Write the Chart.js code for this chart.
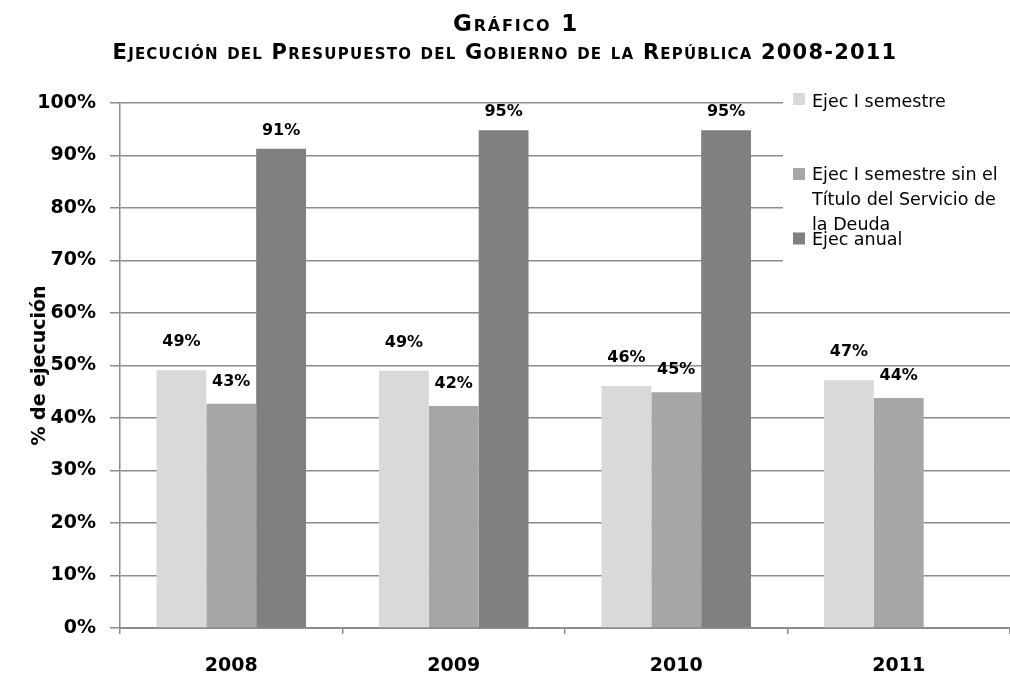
<!DOCTYPE html>
<html>
<head>
<meta charset="utf-8">
<script src="https://cdn.jsdelivr.net/npm/chart.js@4/dist/chart.umd.min.js"></script>
<style>
  html, body { margin: 0; padding: 0; background: #fff; overflow: hidden; }
  #wrap { position: relative; width: 1010px; height: 684px; }
  canvas { position: absolute; left: 0; top: 0; }
  .t { position: absolute; font-family: "DejaVu Sans", sans-serif; font-weight: bold; font-variant: small-caps; color: #000; white-space: nowrap; transform: translate(-50%, -50%); }
  #t1 { left: 516px; top: 23px; font-size: 23px; letter-spacing: 1.8px; }
  #t2 { left: 505px; top: 52px; font-size: 21px; letter-spacing: 1.2px; }
</style>
</head>
<body>
<div id="wrap">
  <canvas id="c" width="1010" height="684"></canvas>
  <div class="t" id="t1">Gráfico 1</div>
  <div class="t" id="t2">Ejecución del Presupuesto del Gobierno de la República 2008-2011</div>
</div>
<script>
const categories = ['2008', '2009', '2010', '2011'];
const seriesNames = ['Ejec I semestre', 'Ejec I semestre sin el Título del Servicio de la Deuda', 'Ejec anual'];
const ejecISemestre = [49.1, 49.0, 46.1, 47.2];
const ejecSinDeuda = [42.7, 42.3, 44.9, 43.8];
const ejecAnual = [91.3, 94.8, 94.8, null];
const legendLines = [['Ejec I semestre'], ['Ejec I semestre sin el', 'Título del Servicio de', 'la Deuda'], ['Ejec anual']];
const yAxisTitle = '% de ejecución';

const colors = ['#d9d9d9', '#a6a6a6', '#808080'];
const gridColor = '#8c8c8c';

const overlayPlugin = {
  id: 'overlay',
  afterDatasetsDraw(chart) {
    const ctx = chart.ctx;
    const offsets = [28, 22, 18];
    ctx.save();
    ctx.font = 'bold 16px "DejaVu Sans"';
    ctx.fillStyle = '#000';
    ctx.textAlign = 'center';
    ctx.textBaseline = 'middle';
    chart.data.datasets.forEach((ds, i) => {
      const meta = chart.getDatasetMeta(i);
      meta.data.forEach((bar, j) => {
        const v = ds.data[j];
        if (v === null || v === undefined) return;
        ctx.fillText(Math.round(v) + '%', bar.x, bar.y - offsets[i]);
      });
    });
    ctx.restore();
  },
  afterDraw(chart) {
    const ctx = chart.ctx;
    ctx.save();
    ctx.fillStyle = '#fff';
    ctx.fillRect(783, 86, 227, 178);
    const sq = [99, 174, 238.5];
    const base = [[106.5], [180, 205, 230], [244.5]];
    ctx.font = '17.5px "DejaVu Sans"';
    ctx.textAlign = 'left';
    ctx.textBaseline = 'alphabetic';
    legendLines.forEach((lines, i) => {
      ctx.fillStyle = colors[i];
      ctx.fillRect(793, sq[i] - 6, 12, 12);
      ctx.fillStyle = '#000';
      lines.forEach((ln, k) => ctx.fillText(ln, 812, base[i][k]));
    });
    ctx.restore();
  }
};

new Chart(document.getElementById('c'), {
  type: 'bar',
  data: {
    labels: categories,
    datasets: [
      { label: seriesNames[0], data: ejecISemestre, backgroundColor: colors[0] },
      { label: seriesNames[1], data: ejecSinDeuda, backgroundColor: colors[1] },
      { label: seriesNames[2], data: ejecAnual, backgroundColor: colors[2] }
    ]
  },
  options: {
    responsive: false,
    animation: false,
    devicePixelRatio: 1,
    layout: { padding: { left: 0, right: 0, top: 103, bottom: 0 } },
    datasets: { bar: { categoryPercentage: 0.672, barPercentage: 1.0 } },
    plugins: {
      legend: { display: false },
      tooltip: { enabled: false },
      title: { display: false }
    },
    scales: {
      x: {
        afterFit(scale) { scale.height = 56; },
        grid: { display: true, drawOnChartArea: false, drawTicks: true, tickLength: 6, color: gridColor, lineWidth: 1.5 },
        border: { display: true, color: gridColor, width: 2 },
        ticks: { color: '#000', font: { family: 'DejaVu Sans', weight: 'bold', size: 19 }, padding: 21 }
      },
      y: {
        min: 0, max: 100,
        afterFit(scale) { scale.width = 120; },
        ticks: {
          stepSize: 10,
          color: '#000',
          font: { family: 'DejaVu Sans', weight: 'bold', size: 19 },
          padding: 14,
          callback: (v) => v + '%'
        },
        grid: { color: gridColor, lineWidth: 1.5, tickLength: 10 },
        border: { display: true, color: gridColor, width: 1.5 },
        title: { display: true, text: yAxisTitle, color: '#000', font: { family: 'DejaVu Sans', weight: 'bold', size: 19 }, padding: { top: 29, bottom: 0 } }
      }
    }
  },
  plugins: [overlayPlugin]
});
</script>
</body>
</html>
